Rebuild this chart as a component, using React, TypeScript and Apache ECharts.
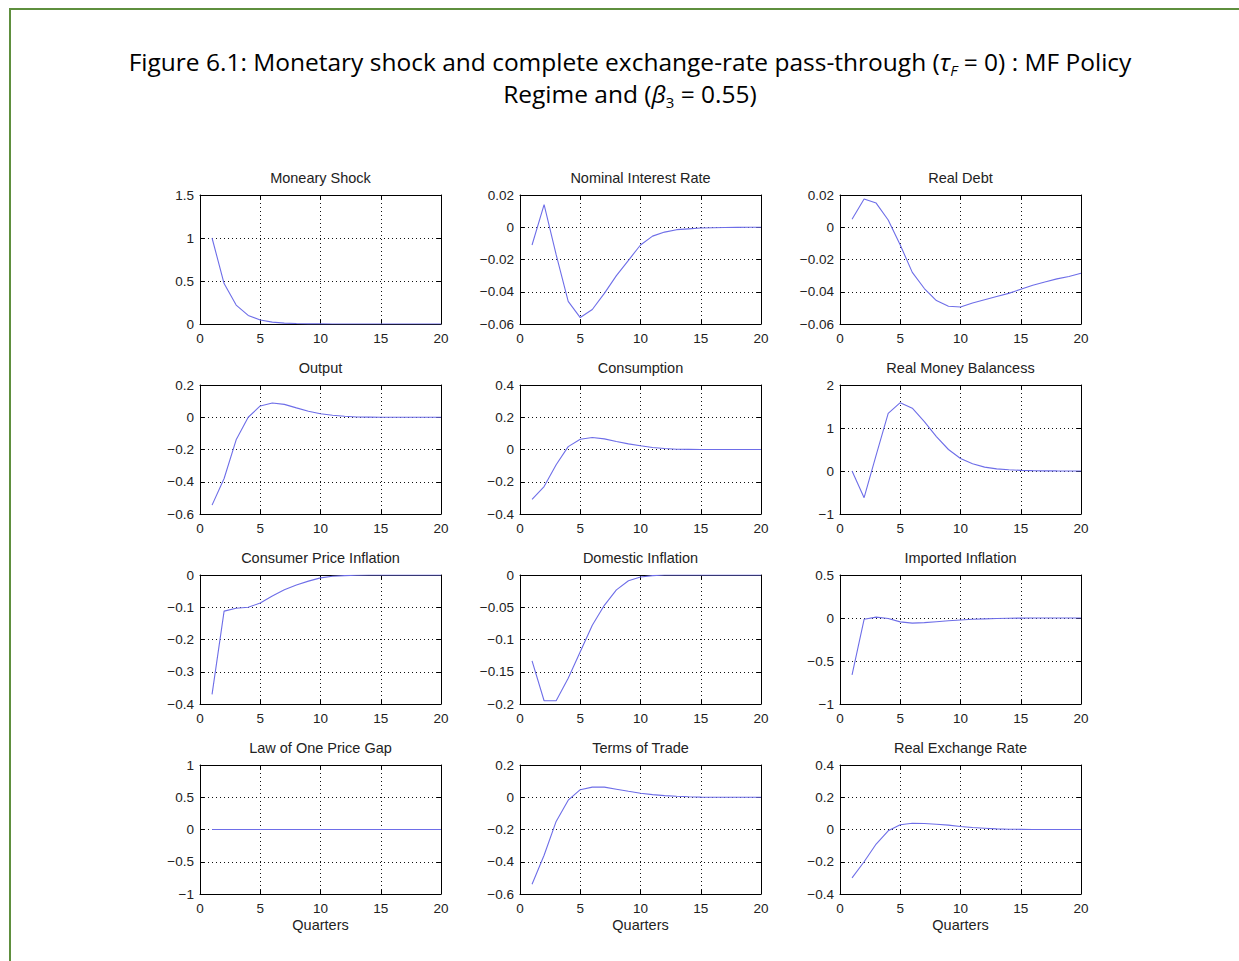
import React, { useEffect, useRef } from "react";
import * as echarts from "echarts";

const QUARTERS = [1, 2, 3, 4, 5, 6, 7, 8, 9, 10, 11, 12, 13, 14, 15, 16, 17, 18, 19, 20];

const MONETARY_SHOCK = [1, 0.47, 0.22, 0.1, 0.047, 0.022, 0.01, 0.005, 0.002, 0.001, 0, 0, 0, 0, 0, 0, 0, 0, 0, 0];
const NOMINAL_RATE = [-0.011, 0.014, -0.017, -0.046, -0.056, -0.051, -0.041, -0.03, -0.0205, -0.011, -0.0055, -0.003, -0.0015, -0.001, -0.0005, -0.0003, -0.0002, -0.0001, 0, 0];
const REAL_DEBT = [0.005, 0.0175, 0.015, 0.0045, -0.011, -0.028, -0.038, -0.0455, -0.049, -0.0495, -0.047, -0.045, -0.043, -0.041, -0.0385, -0.036, -0.034, -0.032, -0.0305, -0.0285];
const OUTPUT = [-0.545, -0.38, -0.14, 0.0, 0.07, 0.088, 0.08, 0.058, 0.037, 0.022, 0.012, 0.006, 0.002, 0.001, 0, 0, 0, 0, 0, 0];
const CONSUMPTION = [-0.31, -0.23, -0.095, 0.018, 0.064, 0.074, 0.066, 0.05, 0.035, 0.023, 0.012, 0.006, 0.002, 0.001, 0, 0, 0, 0, 0, 0];
const REAL_MONEY = [0, -0.62, 0.37, 1.34, 1.59, 1.46, 1.15, 0.8, 0.5, 0.29, 0.17, 0.09, 0.05, 0.03, 0.015, 0.008, 0.004, 0.002, 0.001, 0];
const CPI_INFLATION = [-0.37, -0.112, -0.103, -0.1, -0.087, -0.065, -0.046, -0.031, -0.019, -0.009, -0.004, -0.002, -0.001, 0, 0, 0, 0, 0, 0, 0];
const DOMESTIC_INFLATION = [-0.133, -0.195, -0.195, -0.16, -0.119, -0.078, -0.047, -0.023, -0.009, -0.003, -0.001, 0, 0, 0, 0, 0, 0, 0, 0, 0];
const IMPORTED_INFLATION = [-0.66, -0.015, 0.01, -0.005, -0.045, -0.06, -0.054, -0.043, -0.032, -0.023, -0.015, -0.01, -0.006, -0.003, -0.001, 0, 0, 0, 0, 0];
const LOOP_GAP = [0, 0, 0, 0, 0, 0, 0, 0, 0, 0, 0, 0, 0, 0, 0, 0, 0, 0, 0, 0];
const TERMS_OF_TRADE = [-0.54, -0.36, -0.15, -0.018, 0.047, 0.063, 0.063, 0.05, 0.037, 0.025, 0.016, 0.01, 0.006, 0.003, 0.001, 0, 0, 0, 0, 0];
const REAL_EXCHANGE = [-0.3, -0.2, -0.09, -0.008, 0.029, 0.039, 0.037, 0.033, 0.027, 0.019, 0.012, 0.008, 0.004, 0.002, 0.001, 0, 0, 0, 0, 0];

const TITLES = [
  "Moneary Shock", "Nominal Interest Rate", "Real Debt",
  "Output", "Consumption", "Real Money Balancess",
  "Consumer Price Inflation", "Domestic Inflation", "Imported Inflation",
  "Law of One Price Gap", "Terms of Trade", "Real Exchange Rate",
];
const SERIES = [
  MONETARY_SHOCK, NOMINAL_RATE, REAL_DEBT,
  OUTPUT, CONSUMPTION, REAL_MONEY,
  CPI_INFLATION, DOMESTIC_INFLATION, IMPORTED_INFLATION,
  LOOP_GAP, TERMS_OF_TRADE, REAL_EXCHANGE,
];
// [min, max, interval]
const Y_RANGES: [number, number, number][] = [
  [0, 1.5, 0.5], [-0.06, 0.02, 0.02], [-0.06, 0.02, 0.02],
  [-0.6, 0.2, 0.2], [-0.4, 0.4, 0.2], [-1, 2, 1],
  [-0.4, 0, 0.1], [-0.2, 0, 0.05], [-1, 0.5, 0.5],
  [-1, 1, 0.5], [-0.6, 0.2, 0.2], [-0.4, 0.4, 0.2],
];
const X_LABEL = "Quarters";

const COL_LEFT = [200, 520, 840];
const ROW_TOP = [195, 385, 575, 765];
const GRID_W = 241;
const GRID_H = 129;
const LINE_COLOR = "#6e6ee8";
const FONT = "Liberation Sans, Arial, Helvetica, sans-serif";

const fmt = (v: number) => String(parseFloat(v.toFixed(6))).replace("-", "\u2212");

export default function App() {
  const ref = useRef<HTMLDivElement>(null);
  useEffect(() => {
    if (!ref.current) return;
    const chart = echarts.init(ref.current, null, { renderer: "svg" });
    const grids: any[] = [];
    const xAxes: any[] = [];
    const yAxes: any[] = [];
    const series: any[] = [];
    const graphics: any[] = [];
    const axisLine = { show: true, onZero: false, lineStyle: { color: "#000", width: 1 } };
    const tick = { show: true, inside: true, length: 4, lineStyle: { color: "#000" } };
    const split = { show: true, lineStyle: { color: "#111", width: 1, type: [1, 3] } };
    const label = { show: true, color: "#222", fontFamily: FONT, fontSize: 13.5, formatter: fmt };

    for (let i = 0; i < 12; i++) {
      const r = Math.floor(i / 3);
      const c = i % 3;
      const left = COL_LEFT[c];
      const top = ROW_TOP[r];
      grids.push({ left, top, width: GRID_W, height: GRID_H, containLabel: false });
      const [ymin, ymax, yint] = Y_RANGES[i];
      xAxes.push({
        type: "value", gridIndex: i, min: 0, max: 20, interval: 5, position: "bottom",
        axisLine, axisTick: tick, splitLine: split,
        axisLabel: { ...label, margin: 7 },
      });
      xAxes.push({
        type: "value", gridIndex: i, min: 0, max: 20, interval: 5, position: "top",
        axisLine, axisTick: tick, splitLine: { show: false }, axisLabel: { show: false },
      });
      yAxes.push({
        type: "value", gridIndex: i, min: ymin, max: ymax, interval: yint, position: "left",
        axisLine, axisTick: tick, splitLine: split,
        axisLabel: { ...label, margin: 6 },
      });
      yAxes.push({
        type: "value", gridIndex: i, min: ymin, max: ymax, interval: yint, position: "right",
        axisLine, axisTick: tick, splitLine: { show: false }, axisLabel: { show: false },
      });
      series.push({
        type: "line",
        xAxisIndex: 2 * i,
        yAxisIndex: 2 * i,
        data: QUARTERS.map((q, k) => [q, SERIES[i][k]]),
        showSymbol: false,
        lineStyle: { color: LINE_COLOR, width: 1.1 },
        z: 5,
      });
      graphics.push({
        type: "text",
        x: left + GRID_W / 2,
        y: top - 17,
        style: {
          text: TITLES[i], fill: "#222", font: `14.5px ${FONT}`,
          textAlign: "center", textVerticalAlign: "middle",
        },
      });
      if (r === 3) {
        graphics.push({
          type: "text",
          x: left + GRID_W / 2,
          y: top + GRID_H + 31,
          style: {
            text: X_LABEL, fill: "#222", font: `14.5px ${FONT}`,
            textAlign: "center", textVerticalAlign: "middle",
          },
        });
      }
    }

    const TF = "Open Sans, Noto Sans, sans-serif";
    const rich = {
      a: { fontFamily: TF, fontSize: 24.5, color: "#222", lineHeight: 32, verticalAlign: "middle" },
      i: { fontFamily: TF, fontSize: 24.5, color: "#222", fontStyle: "italic", lineHeight: 32, verticalAlign: "middle" },
      s: { fontFamily: TF, fontSize: 15, color: "#222", fontStyle: "italic", lineHeight: 15, verticalAlign: "bottom" },
      n: { fontFamily: TF, fontSize: 15, color: "#222", lineHeight: 15, verticalAlign: "bottom" },
    };
    graphics.push({
      type: "text", x: 630, y: 61,
      style: {
        text: "{a|Figure 6.1: Monetary shock and complete exchange-rate pass-through (}{i|\u03c4}{s|F}{a| = 0) : MF Policy}",
        rich, textAlign: "center", textVerticalAlign: "middle",
      },
    });
    graphics.push({
      type: "text", x: 630, y: 93,
      style: {
        text: "{a|Regime and (}{i|\u03b2}{n|3}{a| = 0.55)}",
        rich, textAlign: "center", textVerticalAlign: "middle",
      },
    });
    graphics.push({ type: "line", shape: { x1: 9, y1: 9, x2: 1239, y2: 9 }, style: { stroke: "#5e8f3e", lineWidth: 2 } });
    graphics.push({ type: "line", shape: { x1: 10, y1: 8, x2: 10, y2: 961 }, style: { stroke: "#5e8f3e", lineWidth: 2 } });

    chart.setOption({
      animation: false,
      backgroundColor: "#fff",
      grid: grids,
      xAxis: xAxes,
      yAxis: yAxes,
      series,
      graphic: graphics,
    });
    return () => chart.dispose();
  }, []);
  return <div ref={ref} style={{ position: "absolute", left: 0, top: 0, width: 1239, height: 961 }} />;
}
